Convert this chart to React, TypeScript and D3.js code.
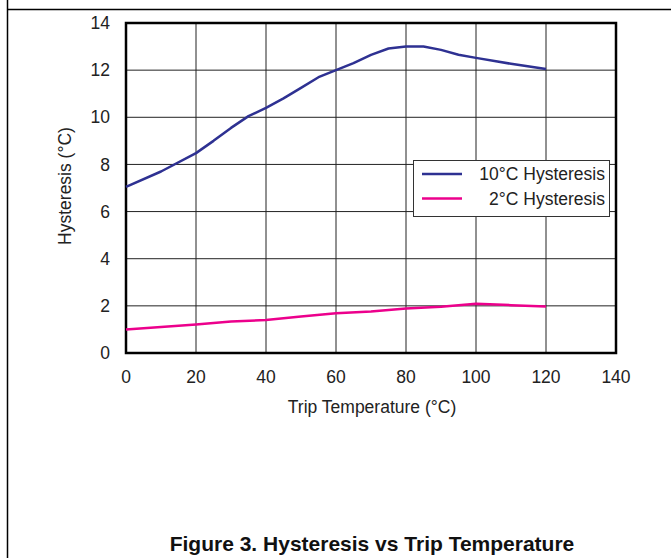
import { useEffect, useRef } from "react"
import * as d3 from "d3"

// 10°C hysteresis curve
const tempsHigh = [0, 10, 20, 25, 30, 35, 40, 45, 50, 55, 60, 65, 70, 75, 80, 85, 90, 95, 100, 110, 120]
const hystHigh = [7.05, 7.7, 8.48, 9.0, 9.55, 10.05, 10.4, 10.8, 11.25, 11.7, 12.0, 12.3, 12.65, 12.92, 13.0, 13.0, 12.86, 12.65, 12.52, 12.27, 12.05]

// 2°C hysteresis curve
const tempsLow = [0, 10, 20, 30, 40, 50, 60, 70, 80, 90, 100, 110, 120]
const hystLow = [1.0, 1.1, 1.21, 1.34, 1.4, 1.55, 1.69, 1.76, 1.89, 1.96, 2.09, 2.03, 1.97]

const xTicks = [0, 20, 40, 60, 80, 100, 120, 140]
const yTicks = [0, 2, 4, 6, 8, 10, 12, 14]

const seriesNames = ["10°C Hysteresis", "2°C Hysteresis"]
const seriesColors = ["#2e3192", "#ec008c"]

export default function App() {
  const svgRef = useRef<SVGSVGElement>(null)

  useEffect(() => {
    if (!svgRef.current) return
    const width = 671
    const height = 558
    const plot = { left: 126, right: 616, top: 23, bottom: 353 }
    const fs = 17.5

    const svg = d3.select(svgRef.current)
    svg.selectAll("*").remove()
    svg.attr("width", width).attr("height", height)
      .style("font-family", "'Liberation Sans', Arial, sans-serif")

    const x = d3.scaleLinear().domain([0, 140]).range([plot.left, plot.right])
    const y = d3.scaleLinear().domain([0, 14]).range([plot.bottom, plot.top])

    // page frame
    svg.append("line").attr("x1", 7.5).attr("x2", 7.5).attr("y1", 0).attr("y2", height)
      .attr("stroke", "#000").attr("stroke-width", 1.5)
    svg.append("line").attr("x1", 7).attr("x2", width).attr("y1", 9.5).attr("y2", 9.5)
      .attr("stroke", "#000").attr("stroke-width", 1.5)

    // grid
    const grid = svg.append("g").attr("stroke", "#222").attr("stroke-width", 1)
    grid.selectAll("line.v").data(xTicks.slice(1, -1)).join("line")
      .attr("class", "v")
      .attr("x1", d => x(d)).attr("x2", d => x(d))
      .attr("y1", plot.top).attr("y2", plot.bottom)
    grid.selectAll("line.h").data(yTicks.slice(1, -1)).join("line")
      .attr("class", "h")
      .attr("x1", plot.left).attr("x2", plot.right)
      .attr("y1", d => y(d)).attr("y2", d => y(d))

    // plot border
    svg.append("rect")
      .attr("x", plot.left).attr("y", plot.top)
      .attr("width", plot.right - plot.left).attr("height", plot.bottom - plot.top)
      .attr("fill", "none").attr("stroke", "#000").attr("stroke-width", 2.5)

    // tick labels
    svg.append("g").selectAll("text").data(yTicks).join("text")
      .attr("x", 110).attr("y", d => y(d)).attr("dy", "0.35em")
      .attr("text-anchor", "end").attr("font-size", fs).attr("fill", "#222")
      .text(d => d)
    svg.append("g").selectAll("text").data(xTicks).join("text")
      .attr("x", d => x(d)).attr("y", 383)
      .attr("text-anchor", "middle").attr("font-size", fs).attr("fill", "#222")
      .text(d => d)

    // axis titles
    svg.append("text")
      .attr("x", 372).attr("y", 413)
      .attr("text-anchor", "middle").attr("font-size", fs).attr("fill", "#222")
      .text("Trip Temperature (°C)")
    svg.append("text")
      .attr("transform", `translate(71,${(plot.top + plot.bottom) / 2 - 2}) rotate(-90)`)
      .attr("text-anchor", "middle").attr("font-size", fs).attr("fill", "#222")
      .text("Hysteresis (°C)")

    // curves
    const line = d3.line<[number, number]>().x(d => x(d[0])).y(d => y(d[1]))
    const series = [
      tempsHigh.map((t, i) => [t, hystHigh[i]] as [number, number]),
      tempsLow.map((t, i) => [t, hystLow[i]] as [number, number]),
    ]
    series.forEach((pts, i) => {
      svg.append("path").attr("d", line(pts))
        .attr("fill", "none").attr("stroke", seriesColors[i])
        .attr("stroke-width", 2.5).attr("stroke-linejoin", "round")
    })

    // legend
    const lg = svg.append("g")
    lg.append("rect").attr("x", 413.5).attr("y", 160.5).attr("width", 196).attr("height", 56)
      .attr("fill", "#fff").attr("stroke", "#333").attr("stroke-width", 1)
    seriesNames.forEach((name, i) => {
      const ly = 174 + i * 24.5
      lg.append("line").attr("x1", 422).attr("x2", 462).attr("y1", ly).attr("y2", ly)
        .attr("stroke", seriesColors[i]).attr("stroke-width", 2.5)
      lg.append("text").attr("x", 605).attr("y", ly).attr("dy", "0.35em")
        .attr("text-anchor", "end").attr("font-size", fs).attr("fill", "#222")
        .text(name)
    })

    // caption
    svg.append("text")
      .attr("x", 372).attr("y", 551)
      .attr("text-anchor", "middle").attr("font-size", 21).attr("font-weight", "bold")
      .attr("fill", "#111")
      .text("Figure 3. Hysteresis vs Trip Temperature")
  }, [])

  return <svg ref={svgRef} style={{ position: "absolute", left: 0, top: 0, background: "#fff" }} />
}
